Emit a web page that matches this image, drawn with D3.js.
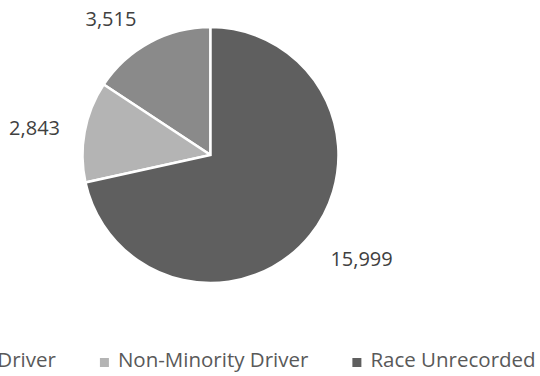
<!DOCTYPE html>
<html>
<head>
<meta charset="utf-8">
<script src="https://cdn.jsdelivr.net/npm/d3@7"></script>
<style>
  html, body { margin: 0; padding: 0; background: #fff; }
  svg { display: block; }
  text { font-family: "Open Sans", "DejaVu Sans", sans-serif; }
</style>
</head>
<body>
<svg id="chart" width="540" height="376"></svg>
<script>
// Traffic stops by driver race
const categories = ["Minority Driver", "Non-Minority Driver", "Race Unrecorded"];
const stops = [3515, 2843, 15999];
const sliceColors = ["#8a8a8a", "#b4b4b4", "#5f5f5f"];

const W = 540, H = 376;
const svg = d3.select("#chart");

const cx = 210.5, cy = 155, radius = 128;
const labelRadius = 150, labelPad = 3, fontSize = 20;

const rows = categories.map((c, i) => ({ category: c, value: stops[i], color: sliceColors[i] }));

// slices run counter-clockwise from 12 o'clock
const pie = d3.pie().sort(null).value(d => d.value).startAngle(0).endAngle(-2 * Math.PI);
const arcs = pie(rows);
const arc = d3.arc().innerRadius(0).outerRadius(radius);

const g = svg.append("g").attr("transform", `translate(${cx},${cy})`);

g.selectAll("path.slice")
  .data(arcs)
  .join("path")
  .attr("class", "slice")
  .attr("d", arc)
  .attr("fill", d => d.data.color)
  .attr("stroke", "#fff")
  .attr("stroke-width", 2.5)
  .attr("stroke-linejoin", "miter");

// value labels outside each slice, box anchored toward the pie
const fmt = d3.format(",");
const capH = fontSize * 0.714;
g.selectAll("text.val")
  .data(arcs)
  .join("text")
  .attr("class", "val")
  .attr("font-size", fontSize)
  .attr("fill", "#404040")
  .text(d => fmt(d.data.value))
  .each(function (d) {
    const a = (d.startAngle + d.endAngle) / 2;
    const s = Math.sin(a), c = -Math.cos(a);
    const px = labelRadius * s, py = labelRadius * c;
    const t = d3.select(this);
    let anchor = "middle", x = px;
    if (s > 0.3) { anchor = "start"; x = px + labelPad; }
    else if (s < -0.3) { anchor = "end"; x = px - labelPad; }
    let y;
    if (c > 0.3) y = py + labelPad + capH;
    else if (c < -0.3) y = py + labelPad;
    else y = py + capH / 2;
    t.attr("text-anchor", anchor).attr("x", x).attr("y", y);
  });

// legend along the bottom
const legendCenter = 215, legendBaseline = 367, legendFont = 20.5;
const box = 9, boxGap = 9, itemGap = 44;
const lg = svg.append("g");
const items = lg.selectAll("g.item")
  .data(rows)
  .join("g")
  .attr("class", "item");
items.append("rect")
  .attr("width", box).attr("height", box)
  .attr("y", legendBaseline - box)
  .attr("fill", d => d.color);
items.append("text")
  .attr("font-size", legendFont)
  .attr("fill", "#595959")
  .attr("x", box + boxGap)
  .attr("y", legendBaseline)
  .text(d => d.category);

const widths = [];
items.each(function () {
  widths.push(box + boxGap + d3.select(this).select("text").node().getComputedTextLength());
});
const total = d3.sum(widths) + itemGap * (widths.length - 1);
let x0 = legendCenter - total / 2;
items.attr("transform", (d, i) => {
  const x = x0;
  x0 += widths[i] + itemGap;
  return `translate(${x},0)`;
});
</script>
</body>
</html>
